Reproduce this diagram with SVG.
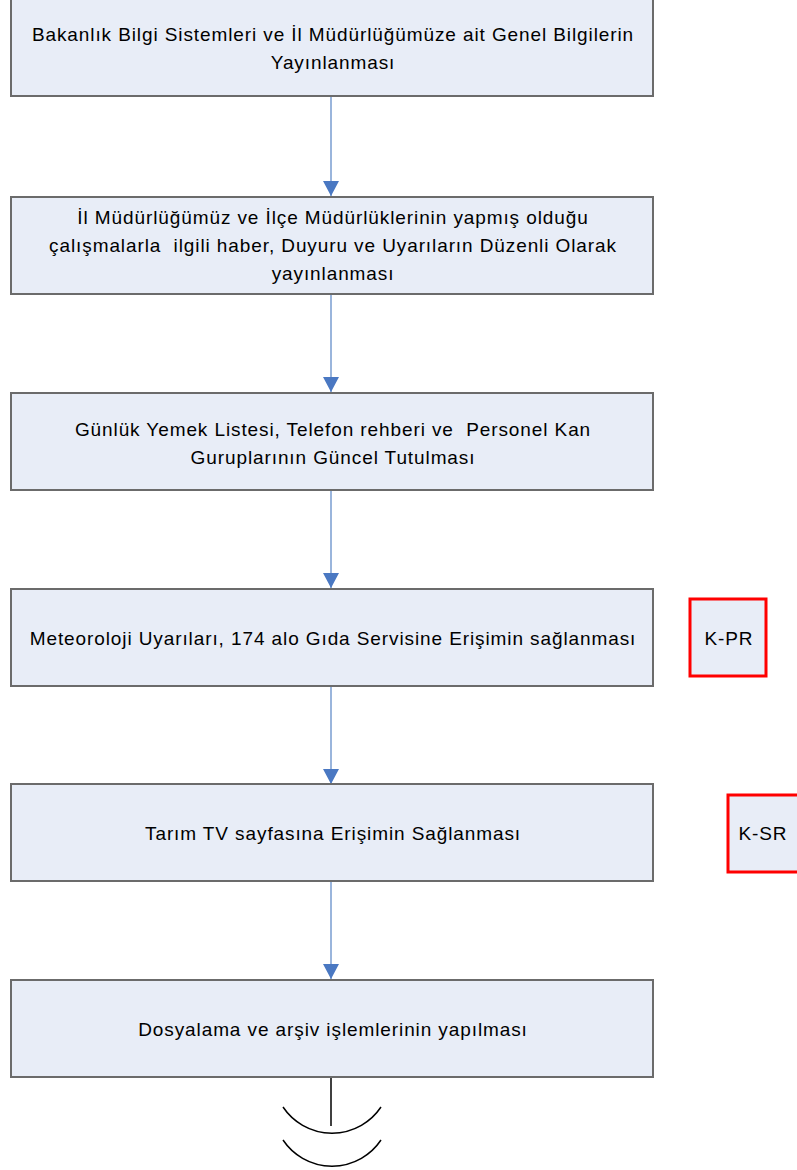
<svg xmlns="http://www.w3.org/2000/svg" width="797" height="1170" viewBox="0 0 797 1170">
<style>
.box{fill:#e8edf7;stroke:#6b6b6b;stroke-width:2}
.tag{fill:#e8edf7;stroke:#ff0000;stroke-width:3}
.t{font-family:"Liberation Sans",Arial,sans-serif;font-size:19px;letter-spacing:0.9px;fill:#000;text-anchor:middle;white-space:pre}
.ln{stroke:#9ab5dc;stroke-width:2;fill:none}
.ah{fill:#4a78c2}
.blk{stroke:#000;stroke-width:1.5;fill:none}
</style>
<defs>
<marker id="arr" markerWidth="16" markerHeight="16" viewBox="0 0 16 16" refX="15" refY="8" orient="auto" markerUnits="userSpaceOnUse">
<path d="M0,0 L15,8 L0,16 Z" class="ah"/>
</marker>
</defs>
<g id="connectors">
<line class="ln" x1="331" y1="97" x2="331" y2="196" marker-end="url(#arr)"/>
<line class="ln" x1="331" y1="295" x2="331" y2="392" marker-end="url(#arr)"/>
<line class="ln" x1="331" y1="491" x2="331" y2="588" marker-end="url(#arr)"/>
<line class="ln" x1="331" y1="687" x2="331" y2="784" marker-end="url(#arr)"/>
<line class="ln" x1="331" y1="882" x2="331" y2="979" marker-end="url(#arr)"/>
<line class="blk" x1="331" y1="1078" x2="331" y2="1126"/>
<path class="blk" d="M283,1107 A59,59 0 0 0 381,1107"/>
<path class="blk" d="M283,1140 A59,59 0 0 0 381,1140"/>
</g>
<g id="n1">
<rect class="box" x="11" y="-1" width="642" height="97"/>
<text class="t" x="333" y="41">Bakanlık Bilgi Sistemleri ve İl Müdürlüğümüze ait Genel Bilgilerin</text>
<text class="t" x="333" y="69">Yayınlanması</text>
</g>
<g id="n2">
<rect class="box" x="11" y="197" width="642" height="97"/>
<text class="t" x="333" y="224">İl Müdürlüğümüz ve İlçe Müdürlüklerinin yapmış olduğu</text>
<text class="t" x="333" y="252">çalışmalarla  ilgili haber, Duyuru ve Uyarıların Düzenli Olarak</text>
<text class="t" x="333" y="280">yayınlanması</text>
</g>
<g id="n3">
<rect class="box" x="11" y="393" width="642" height="97"/>
<text class="t" x="333" y="436">Günlük Yemek Listesi, Telefon rehberi ve  Personel Kan</text>
<text class="t" x="333" y="464">Guruplarının Güncel Tutulması</text>
</g>
<g id="n4">
<rect class="box" x="11" y="589" width="642" height="97"/>
<text class="t" x="333" y="645">Meteoroloji Uyarıları, 174 alo Gıda Servisine Erişimin sağlanması</text>
</g>
<g id="n5">
<rect class="box" x="11" y="784" width="642" height="97"/>
<text class="t" x="333" y="840">Tarım TV sayfasına Erişimin Sağlanması</text>
</g>
<g id="n6">
<rect class="box" x="11" y="980" width="642" height="97"/>
<text class="t" x="333" y="1036">Dosyalama ve arşiv işlemlerinin yapılması</text>
</g>
<g id="kpr">
<rect class="tag" x="690" y="599" width="76" height="77"/>
<text class="t" x="729" y="645">K-PR</text>
</g>
<g id="ksr">
<rect class="tag" x="728" y="795" width="76" height="77"/>
<text class="t" x="763" y="840">K-SR</text>
</g>
</svg>
